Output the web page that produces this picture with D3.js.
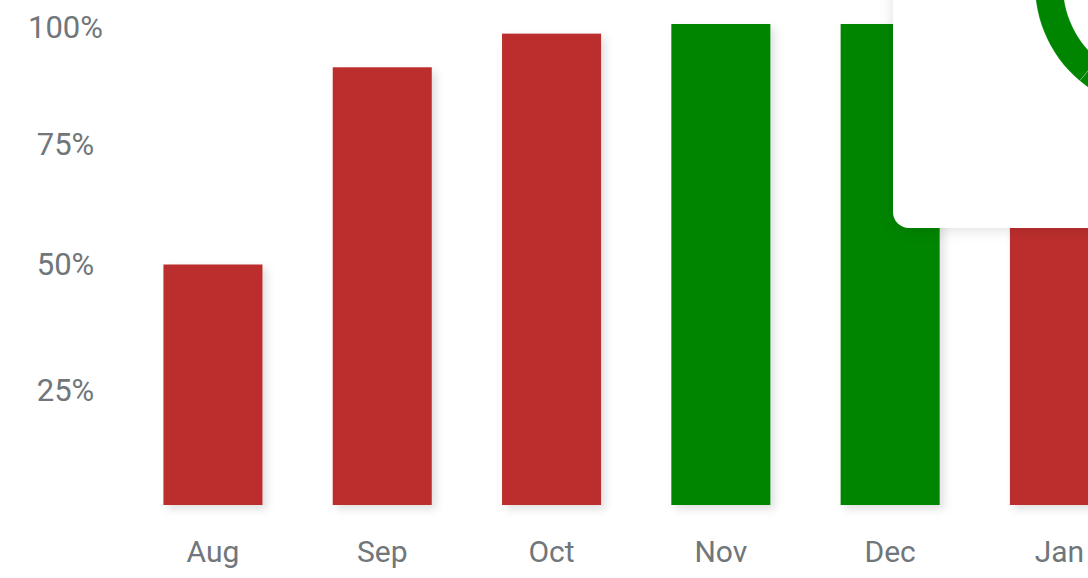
<!DOCTYPE html>
<html>
<head>
<meta charset="utf-8">
<script src="https://cdn.jsdelivr.net/npm/d3@7"></script>
<style>
  html, body { margin: 0; padding: 0; background: #fff; overflow: hidden; }
  svg { display: block; font-family: Roboto, "Noto Sans", sans-serif; }
</style>
</head>
<body>
<svg id="chart" width="1088" height="578"></svg>
<script>
// chart data
const months = ['Aug', 'Sep', 'Oct', 'Nov', 'Dec', 'Jan'];
const values = [50, 91, 98, 100, 100, 80];
const onTarget = [false, false, false, true, true, false];
const yTicks = [25, 50, 75, 100];
// the donut peeking out of the card (two segments)
const ringParts = [62, 38];

const red = '#bc2e2d';
const green = '#008500';
const textGrey = '#70767a';

let svg = d3.select('#chart');

let defs = svg.append('defs');
let barShadow = defs.append('filter')
    .attr('id', 'barShadow')
    .attr('x', '-20%').attr('y', '-20%')
    .attr('width', '150%').attr('height', '150%');
barShadow.append('feDropShadow')
    .attr('dx', 4).attr('dy', 4)
    .attr('stdDeviation', 4)
    .attr('flood-color', '#000')
    .attr('flood-opacity', 0.13);

let cardShadow = defs.append('filter')
    .attr('id', 'cardShadow')
    .attr('x', '-30%').attr('y', '-30%')
    .attr('width', '160%').attr('height', '160%');
cardShadow.append('feDropShadow')
    .attr('dx', 0).attr('dy', 2)
    .attr('stdDeviation', 7)
    .attr('flood-color', '#000')
    .attr('flood-opacity', 0.12);

let x = d3.scaleBand()
    .domain(months)
    .range([128.3, 1144.1])
    .paddingInner(0.415)
    .paddingOuter(0.2075);

let y = d3.scaleLinear()
    .domain([0, 100])
    .range([505, 24]);

// bars
svg.append('g')
    .selectAll('rect')
    .data(months)
    .join('rect')
        .attr('x', d => x(d))
        .attr('y', (d, i) => y(values[i]))
        .attr('width', x.bandwidth())
        .attr('height', (d, i) => y(0) - y(values[i]))
        .attr('fill', (d, i) => onTarget[i] ? green : red)
        .attr('filter', 'url(#barShadow)');

// x axis labels
let xAxis = svg.append('g')
    .attr('transform', `translate(0, ${y(0)})`)
    .call(d3.axisBottom(x).tickSize(0).tickPadding(0));
xAxis.select('.domain').remove();
xAxis.selectAll('text')
    .attr('y', 57)
    .attr('dy', 0)
    .attr('fill', textGrey)
    .style('font-size', '30px')
    .style('font-family', 'Roboto, sans-serif');

// y axis labels
let yAxis = svg.append('g')
    .attr('transform', 'translate(65.5, 0)')
    .call(d3.axisLeft(y).tickValues(yTicks).tickFormat(d => d + '%').tickSize(0).tickPadding(0));
yAxis.select('.domain').remove();
yAxis.selectAll('text')
    .attr('x', 0)
    .attr('dy', d => d == 25 ? '0.52em' : (d == 100 ? '0.42em' : '0.33em'))
    .attr('text-anchor', 'middle')
    .attr('fill', textGrey)
    .style('font-size', '31px')
    .style('font-family', 'Roboto, sans-serif');

// overlay card in the top right corner
let card = svg.append('g');
card.append('rect')
    .attr('x', 893)
    .attr('y', -40)
    .attr('width', 260)
    .attr('height', 268)
    .attr('rx', 16)
    .attr('fill', '#fff')
    .attr('filter', 'url(#cardShadow)');

let pie = d3.pie().sort(null).startAngle(Math.PI * 1.222).endAngle(Math.PI * 3.222);
let arc = d3.arc().innerRadius(97).outerRadius(125);
card.append('g')
    .attr('transform', 'translate(1160, -15)')
    .selectAll('path')
    .data(pie(ringParts))
    .join('path')
        .attr('d', arc)
        .attr('fill', green)
        .attr('stroke', '#fff')
        .attr('stroke-opacity', 0.35)
        .attr('stroke-width', 0.6);
</script>
</body>
</html>
